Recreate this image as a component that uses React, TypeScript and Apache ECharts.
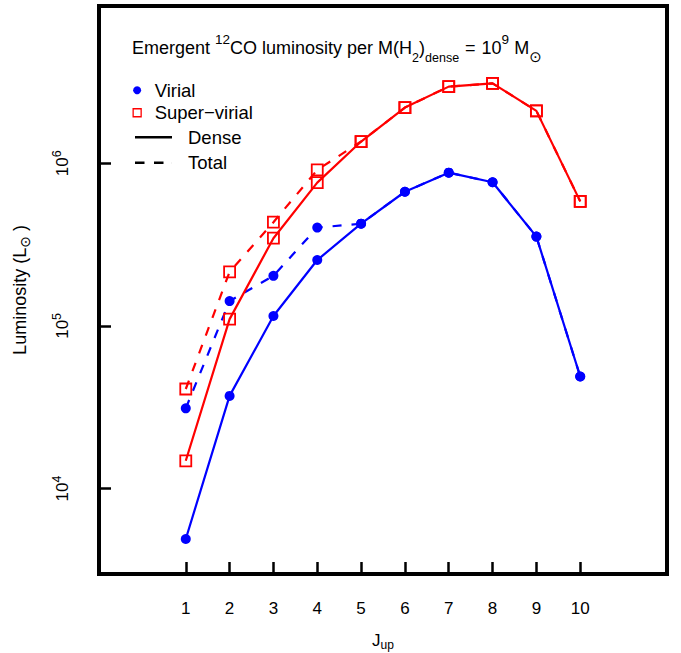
import React, { useEffect, useRef } from 'react';
import * as echarts from 'echarts';

const FONT = '"Liberation Sans", Arial, Helvetica, sans-serif';

// J_up levels
const jUp = [1, 2, 3, 4, 5, 6, 7, 8, 9, 10];
// Luminosity (L_sun) per 10^9 M_sun of dense gas
const virialDense = [4.89e3, 3.71e4, 1.15e5, 2.54e5, 4.25e5, 6.68e5, 8.75e5, 7.64e5, 3.54e5, 4.88e4];
const virialTotal = [3.11e4, 1.42e5, 2.03e5, 4.02e5, 4.25e5, 6.68e5, 8.75e5, 7.64e5, 3.54e5, 4.88e4];
const superDense = [1.48e4, 1.1e5, 3.46e5, 7.6e5, 1.36e6, 2.2e6, 2.96e6, 3.1e6, 2.1e6, 5.83e5];
const superTotal = [4.09e4, 2.15e5, 4.34e5, 9.1e5, 1.36e6, 2.2e6, 2.96e6, 3.1e6, 2.1e6, 5.83e5];
// axis ticks
const xTicks = [1, 2, 3, 4, 5, 6, 7, 8, 9, 10];
const xMin = -0.98;
const xMax = 11.98;
const yMin = 2979;
const yMax = 9.27e6;

const BLUE = '#0000ff';
const RED = '#ff0000';

const pts = (ys: number[]) => jUp.map((x, i) => [x, ys[i]]);

export default function App() {
  const ref = useRef<HTMLDivElement>(null);
  useEffect(() => {
    document.body.style.margin = '0';
    const chart = echarts.init(ref.current!, null, { renderer: 'svg' });
    const option: any = {
      animation: false,
      backgroundColor: '#fff',
      textStyle: { fontFamily: FONT },
      title: {
        text: 'Emergent {sup|12}CO luminosity per M(H{sub|2}){sub|dense}{eq|=}10{sup|9} M{od|⊙}',
        left: 132,
        top: 32,
        padding: 0,
        textStyle: {
          fontFamily: FONT,
          fontSize: 18,
          fontWeight: 'normal',
          color: '#000',
          lineHeight: 32,
          rich: {
            sup: { fontFamily: FONT, fontSize: 13.5, color: '#000', lineHeight: 9.4, verticalAlign: 'top' },
            sub: { fontFamily: FONT, fontSize: 12.5, color: '#000', lineHeight: 21, verticalAlign: 'bottom' },
            eq: { fontFamily: FONT, fontSize: 18, color: '#000', lineHeight: 32, padding: [0, 6, 0, 6] },
            od: { fontFamily: 'DejaVu Sans', fontSize: 15, color: '#000', lineHeight: 15.6, verticalAlign: 'bottom' },
          },
        },
      },
      legend: [
        {
          orient: 'vertical',
          left: 132.5,
          top: 80.75,
          padding: 0,
          itemWidth: 8,
          itemHeight: 8,
          itemGap: 3.5,
          selectedMode: false,
          textStyle: { fontFamily: FONT, fontSize: 18.5, color: '#000', padding: [0, 0, 0, 8.5] },
          data: [
            { name: 'Virial', icon: 'circle', itemStyle: { color: BLUE, borderWidth: 0 } },
            {
              name: 'Super−virial',
              icon: 'rect',
              itemStyle: { color: 'rgba(0,0,0,0)', borderColor: RED, borderWidth: 1.3 },
            },
          ],
        },
        {
          orient: 'vertical',
          left: 135,
          top: 127.75,
          padding: 0,
          itemWidth: 37,
          itemHeight: 2.5,
          itemGap: 6.5,
          selectedMode: false,
          textStyle: { fontFamily: FONT, fontSize: 18.5, color: '#000', padding: [0, 0, 0, 11] },
          data: [
            { name: 'Dense', icon: 'path://M0,0H37V2.5H0Z', itemStyle: { color: '#000', borderWidth: 0 } },
            {
              name: 'Total',
              icon: 'path://M0,0H9.5V2.5H0ZM19,0H28.5V2.5H19ZM36.95,0H37V2.5H36.95Z',
              itemStyle: { color: '#000', borderWidth: 0 },
            },
          ],
        },
      ],
      grid: {
        left: 99,
        right: 14,
        top: 6,
        bottom: 79,
        containLabel: false,
        outerBoundsMode: 'none',
        show: true,
        borderColor: '#000',
        borderWidth: 4,
        backgroundColor: 'rgba(0,0,0,0)',
      },
      tooltip: { show: false },
      xAxis: {
        type: 'value',
        min: xMin,
        max: xMax,
        axisLine: { show: false, onZero: false },
        splitLine: { show: false },
        axisTick: {
          show: true,
          inside: true,
          length: 12,
          customValues: xTicks,
          lineStyle: { color: '#000', width: 2.5 },
        },
        axisLabel: {
          customValues: xTicks,
          margin: 26,
          fontSize: 17,
          color: '#000',
          fontFamily: FONT,
        },
        name: 'J{sub|up}',
        nameLocation: 'middle',
        nameGap: 55,
        nameTextStyle: {
          fontFamily: FONT,
          fontSize: 17,
          color: '#000',
          lineHeight: 22,
          rich: {
            sub: { fontFamily: FONT, fontSize: 12, color: '#000', lineHeight: 12, verticalAlign: 'bottom' },
          },
        },
      },
      yAxis: {
        type: 'log',
        logBase: 10,
        min: yMin,
        max: yMax,
        axisLine: { show: false, onZero: false },
        splitLine: { show: false },
        minorTick: { show: false },
        axisTick: { show: true, inside: true, length: 12, lineStyle: { color: '#000', width: 2.5 } },
        axisLabel: {
          rotate: 90,
          margin: 25,
          showMinLabel: false,
          showMaxLabel: false,
          color: '#000',
          fontFamily: FONT,
          fontSize: 17,
          lineHeight: 24,
          formatter: (v: number) => '10{s|' + Math.round(Math.log10(v)) + '}',
          rich: {
            s: { fontFamily: FONT, fontSize: 12.5, color: '#000', lineHeight: 6, verticalAlign: 'top' },
          },
        },
        name: 'Luminosity (L{od|⊙} )',
        nameLocation: 'middle',
        nameRotate: 90,
        nameGap: 67,
        nameTextStyle: {
          fontFamily: FONT,
          fontSize: 18,
          color: '#000',
          lineHeight: 24,
          rich: {
            od: { fontFamily: 'DejaVu Sans', fontSize: 14, color: '#000', lineHeight: 10, verticalAlign: 'bottom' },
          },
        },
      },
      series: [
        {
          name: 'Virial total',
          type: 'line',
          data: pts(virialTotal),
          symbol: 'circle',
          symbolSize: 10,
          itemStyle: { color: BLUE },
          lineStyle: { color: BLUE, width: 2.2, type: [9, 10] },
          emphasis: { disabled: true },
          z: 2,
        },
        {
          name: 'Virial',
          type: 'line',
          data: pts(virialDense),
          symbol: 'circle',
          symbolSize: 10,
          itemStyle: { color: BLUE },
          lineStyle: { color: BLUE, width: 2.2, type: 'solid' },
          emphasis: { disabled: true },
          z: 3,
        },
        {
          name: 'Super−virial total',
          type: 'line',
          data: pts(superTotal),
          symbol: 'rect',
          symbolSize: 11,
          itemStyle: { color: 'rgba(0,0,0,0)', borderColor: RED, borderWidth: 1.8 },
          lineStyle: { color: RED, width: 2.2, type: [9, 10] },
          emphasis: { disabled: true },
          z: 4,
        },
        {
          name: 'Super−virial',
          type: 'line',
          data: pts(superDense),
          symbol: 'rect',
          symbolSize: 11,
          itemStyle: { color: 'rgba(0,0,0,0)', borderColor: RED, borderWidth: 1.8 },
          lineStyle: { color: RED, width: 2.2, type: 'solid' },
          emphasis: { disabled: true },
          z: 5,
        },
        {
          name: 'Dense',
          type: 'line',
          data: [],
          itemStyle: { color: '#000' },
          lineStyle: { color: '#000' },
        },
        {
          name: 'Total',
          type: 'line',
          data: [],
          itemStyle: { color: '#000' },
          lineStyle: { color: '#000', type: 'dashed' },
        },
      ],
    };
    chart.setOption(option);
    return () => chart.dispose();
  }, []);
  return <div ref={ref} style={{ width: 681, height: 653, background: '#fff' }} />;
}
